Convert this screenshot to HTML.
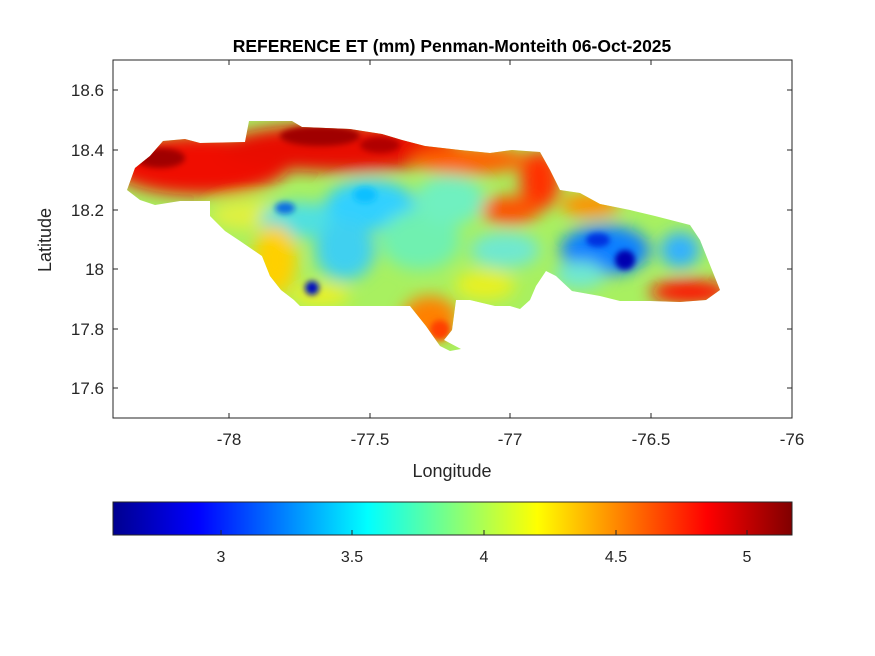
<!DOCTYPE html>
<html><head><meta charset="utf-8"><style>
body{margin:0;background:#fff;}
svg{display:block;font-family:"Liberation Sans",Arial,sans-serif;}
</style></head><body>
<svg width="875" height="656" viewBox="0 0 875 656" xmlns="http://www.w3.org/2000/svg">
<defs>
<clipPath id="jam">
<path d="M127,190 L135,168 L150,156 L163,141 L185,139 L200,143 L245,142 L249,121 L292,121 L302,127 L350,129 L382,134 L402,140 L425,146 L460,150 L490,153 L512,150 L540,152 L550,170 L560,190 L580,193 L600,204 L630,210 L655,216 L690,225 L700,240 L710,265 L720,290 L706,300 L680,302 L650,301 L620,301 L600,296 L572,291 L556,276 L546,271 L536,286 L530,300 L520,309 L510,306 L495,306 L470,300 L456,300 L452,330 L444,340 L461,349 L450,351 L440,346 L426,326 L410,306 L300,306 L294,300 L281,290 L270,276 L262,256 L240,241 L225,231 L210,216 L210,201 L180,201 L155,205 L140,200 Z"/>
</clipPath>
<filter id="bl" x="-20%" y="-20%" width="140%" height="140%"><feGaussianBlur stdDeviation="8"/></filter>
<filter id="bl2"><feGaussianBlur stdDeviation="3"/></filter>
<linearGradient id="jet" x1="0" x2="1" y1="0" y2="0">
<stop offset="0" stop-color="#00008f"/>
<stop offset="0.125" stop-color="#0000ff"/>
<stop offset="0.375" stop-color="#00ffff"/>
<stop offset="0.625" stop-color="#ffff00"/>
<stop offset="0.875" stop-color="#ff0000"/>
<stop offset="1" stop-color="#800000"/>
</linearGradient>
</defs>
<rect x="113" y="60" width="679" height="358" fill="#fff" stroke="#262626" stroke-width="1"/>
<g clip-path="url(#jam)">
<rect x="110" y="110" width="620" height="250" fill="#a8f060"/>
<g filter="url(#bl)">
<ellipse cx="200" cy="165" rx="90" ry="30" fill="#f01000"/>
<ellipse cx="340" cy="148" rx="120" ry="24" fill="#e81000"/>
<ellipse cx="470" cy="160" rx="60" ry="14" fill="#ff6000"/>
<ellipse cx="540" cy="180" rx="20" ry="30" fill="#ff3000"/>
<ellipse cx="510" cy="210" rx="30" ry="14" fill="#ff5000"/>
<ellipse cx="590" cy="205" rx="30" ry="12" fill="#ff9000"/>
<ellipse cx="250" cy="215" rx="40" ry="15" fill="#e0f040"/>
<ellipse cx="300" cy="220" rx="40" ry="18" fill="#50e0e0"/>
<ellipse cx="370" cy="205" rx="45" ry="25" fill="#30d0ff"/>
<ellipse cx="345" cy="250" rx="30" ry="30" fill="#40d0f0"/>
<ellipse cx="420" cy="240" rx="40" ry="30" fill="#70f0b0"/>
<ellipse cx="450" cy="200" rx="35" ry="25" fill="#70f0c0"/>
<ellipse cx="505" cy="250" rx="35" ry="18" fill="#70e8d0"/>
<ellipse cx="485" cy="285" rx="30" ry="15" fill="#e8f020"/>
<ellipse cx="605" cy="250" rx="45" ry="25" fill="#1080ff"/>
<ellipse cx="680" cy="250" rx="20" ry="18" fill="#30b0ff"/>
<ellipse cx="580" cy="275" rx="25" ry="14" fill="#70e8d0"/>
<ellipse cx="690" cy="292" rx="40" ry="12" fill="#ff1000"/>
<ellipse cx="430" cy="318" rx="28" ry="22" fill="#ff8000"/>
<ellipse cx="275" cy="260" rx="22" ry="35" fill="#ffd000"/>
<ellipse cx="320" cy="295" rx="30" ry="10" fill="#f0f020"/>
</g>
<g filter="url(#bl2)">
<ellipse cx="160" cy="158" rx="25" ry="10" fill="#a00000"/>
<ellipse cx="320" cy="136" rx="40" ry="10" fill="#a00000"/>
<ellipse cx="380" cy="145" rx="20" ry="8" fill="#b00000"/>
<ellipse cx="625" cy="260" rx="10" ry="10" fill="#0000b0"/>
<ellipse cx="598" cy="240" rx="12" ry="7" fill="#0030e0"/>
<ellipse cx="312" cy="288" rx="7" ry="7" fill="#0010c0"/>
<ellipse cx="285" cy="208" rx="10" ry="6" fill="#1070e0"/>
<ellipse cx="365" cy="195" rx="12" ry="8" fill="#10c0ff"/>
<ellipse cx="440" cy="330" rx="10" ry="10" fill="#ff4000"/>
</g>
</g>
<g stroke="#262626" stroke-width="1">
<line x1="113" y1="90" x2="118" y2="90"/><line x1="113" y1="150" x2="118" y2="150"/>
<line x1="113" y1="210" x2="118" y2="210"/><line x1="113" y1="269" x2="118" y2="269"/>
<line x1="113" y1="329" x2="118" y2="329"/><line x1="113" y1="388" x2="118" y2="388"/>
<line x1="792" y1="90" x2="787" y2="90"/><line x1="792" y1="150" x2="787" y2="150"/>
<line x1="792" y1="210" x2="787" y2="210"/><line x1="792" y1="269" x2="787" y2="269"/>
<line x1="792" y1="329" x2="787" y2="329"/><line x1="792" y1="388" x2="787" y2="388"/>
<line x1="229" y1="418" x2="229" y2="413"/><line x1="370" y1="418" x2="370" y2="413"/>
<line x1="510" y1="418" x2="510" y2="413"/><line x1="651" y1="418" x2="651" y2="413"/>
<line x1="229" y1="60" x2="229" y2="65"/><line x1="370" y1="60" x2="370" y2="65"/>
<line x1="510" y1="60" x2="510" y2="65"/><line x1="651" y1="60" x2="651" y2="65"/>
</g>
<g font-size="17" fill="#262626" text-anchor="end">
<text x="104" y="96">18.6</text>
<text x="104" y="156">18.4</text>
<text x="104" y="216">18.2</text>
<text x="104" y="275">18</text>
<text x="104" y="335">17.8</text>
<text x="104" y="394">17.6</text>
</g>
<g font-size="17" fill="#262626" text-anchor="middle">
<text x="229" y="445">-78</text>
<text x="370" y="445">-77.5</text>
<text x="510" y="445">-77</text>
<text x="651" y="445">-76.5</text>
<text x="792" y="445">-76</text>
</g>
<text x="452" y="477" font-size="18" fill="#262626" text-anchor="middle">Longitude</text>
<text x="51" y="240" font-size="18" fill="#262626" text-anchor="middle" transform="rotate(-90 51 240)">Latitude</text>
<text x="452" y="52" font-size="17.5" font-weight="bold" fill="#000" text-anchor="middle">REFERENCE ET (mm) Penman-Monteith 06-Oct-2025</text>
<rect x="113" y="502" width="679" height="33" fill="url(#jet)" stroke="#262626" stroke-width="1"/>
<g stroke="#262626" stroke-width="1">
<line x1="221" y1="530" x2="221" y2="535"/><line x1="352" y1="530" x2="352" y2="535"/>
<line x1="484" y1="530" x2="484" y2="535"/><line x1="616" y1="530" x2="616" y2="535"/>
<line x1="747" y1="530" x2="747" y2="535"/>
</g>
<g font-size="16" fill="#262626" text-anchor="middle">
<text x="221" y="562">3</text><text x="352" y="562">3.5</text><text x="484" y="562">4</text>
<text x="616" y="562">4.5</text><text x="747" y="562">5</text>
</g>
</svg>
</body></html>
